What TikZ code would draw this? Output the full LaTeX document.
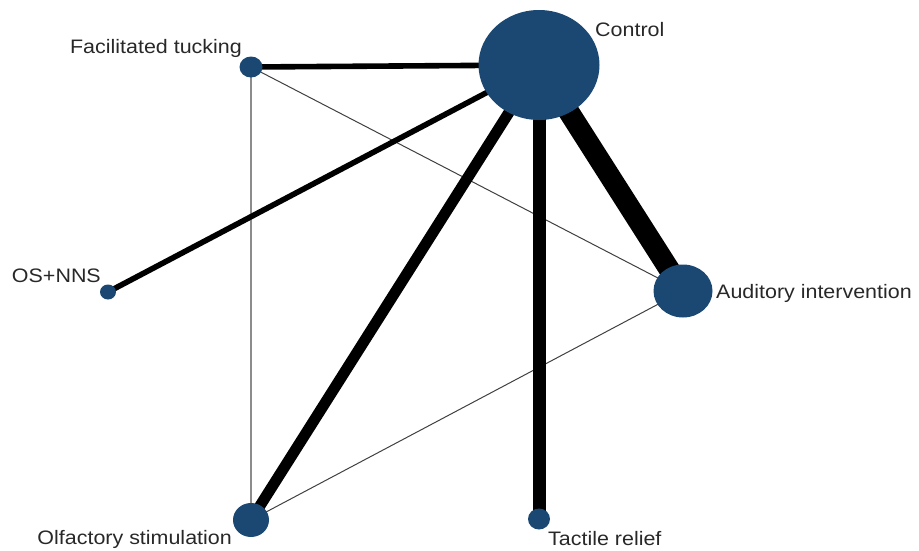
\documentclass[tikz,border=0pt]{standalone}
\usepackage{fontspec}
\setmainfont{Liberation Sans}
\usetikzlibrary{shapes.geometric}
\definecolor{nodeblue}{RGB}{27,72,115}
\definecolor{labelgray}{RGB}{40,40,40}
\begin{document}
\begin{tikzpicture}[x=1pt,y=-1pt,
  netnode/.style={ellipse, fill=nodeblue, draw=none, inner sep=0pt},
  lbl/.style={inner sep=0pt, text=labelgray, font=\fontsize{19.5}{22}\selectfont},
  heavy/.style={draw=black, line cap=butt},
  faint/.style={draw=black!75, line width=1pt},
  pale/.style={draw=black!45, line width=1.4pt}]
\useasboundingbox (0,0) rectangle (919,550);
% node positions
\coordinate (pC) at (539,65);
\coordinate (pFT) at (251,67);
\coordinate (pOS) at (108,292);
\coordinate (pAI) at (683,291);
\coordinate (pOF) at (251,520);
\coordinate (pTR) at (539,519);
% thin edges
\draw[pale] (pFT) -- (pOF);
\draw[faint] (pFT) -- (pAI);
\draw[faint] (pOF) -- (pAI);
% heavy edges
\draw[heavy, line width=5.6pt] (pFT) -- (pC);
\draw[heavy, line width=5.6pt] (pOS) -- (pC);
\draw[heavy, line width=11pt] (pOF) -- (pC);
\draw[heavy, line width=13pt] (pTR) -- (pC);
\draw[heavy, line width=21pt] (pAI) -- (pC);
% nodes
\node[netnode, minimum width=121pt, minimum height=110pt] (C) at (pC) {};
\node[netnode, minimum width=23pt, minimum height=21pt] (FT) at (pFT) {};
\node[netnode, minimum width=16pt, minimum height=15pt] (OS) at (pOS) {};
\node[netnode, minimum width=59pt, minimum height=53pt] (AI) at (pAI) {};
\node[netnode, minimum width=36pt, minimum height=34pt] (OF) at (pOF) {};
\node[netnode, minimum width=22pt, minimum height=21pt] (TR) at (pTR) {};
% labels
\node[lbl, anchor=base west] (lC) at (595,36) {\scalebox{1.1}[1]{Control}};
\node[lbl, anchor=base east] (lFT) at (242,53) {\scalebox{1.1}[1]{Facilitated tucking}};
\node[lbl, anchor=base east] (lOS) at (101,282) {\scalebox{1.1}[1]{OS+NNS}};
\node[lbl, anchor=base west] (lAI) at (716,298) {\scalebox{1.1}[1]{Auditory intervention}};
\node[lbl, anchor=base east] (lOF) at (232,544) {\scalebox{1.1}[1]{Olfactory stimulation}};
\node[lbl, anchor=base west] (lTR) at (548,545) {\scalebox{1.1}[1]{Tactile relief}};
\end{tikzpicture}
\end{document}
